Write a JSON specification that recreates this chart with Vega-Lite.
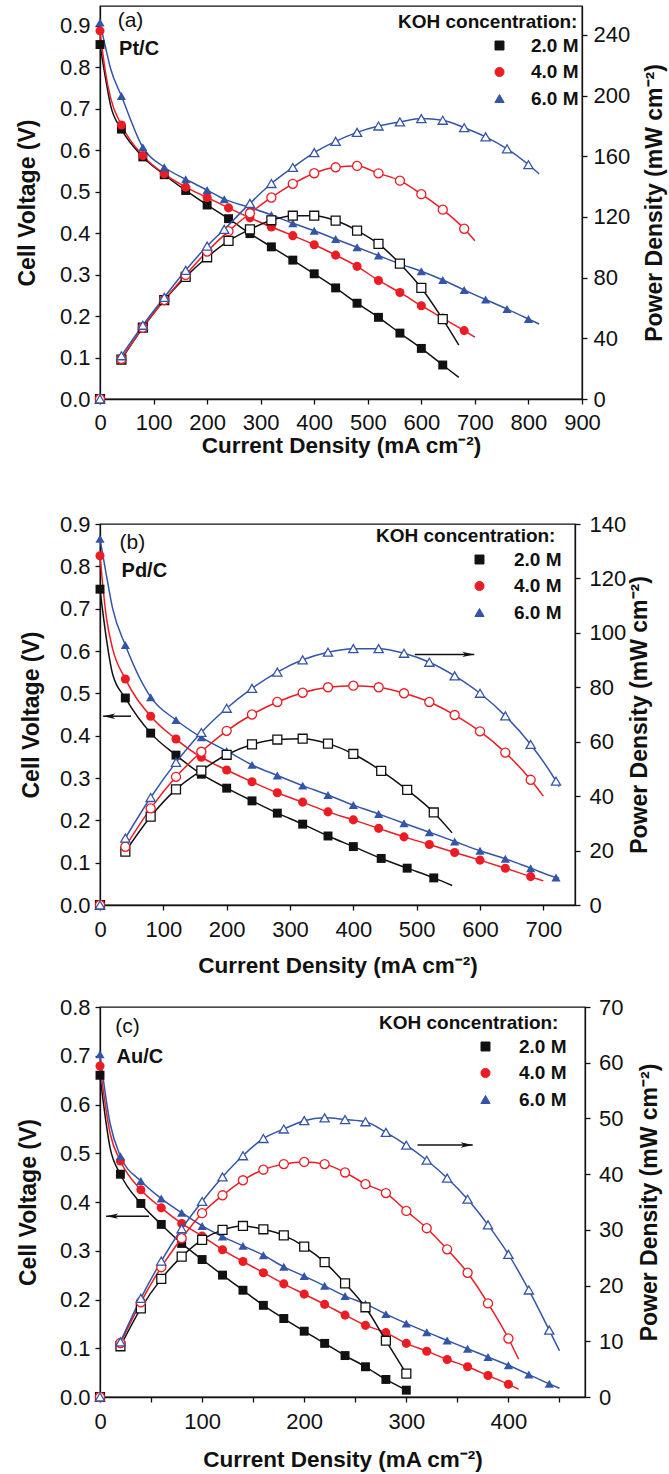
{
"$schema": "https://vega.github.io/schema/vega-lite/v6.json",
"padding": {"left": 15, "top": 5, "right": 0, "bottom": 0},
"config": {
 "view": {"stroke": "#111111", "strokeWidth": 1.3},
 "font": "Liberation Sans",
 "axis": {"labelFont": "Liberation Sans", "labelFontSize": 22, "labelColor": "#111111", "titleFont": "Liberation Sans", "titleFontSize": 23, "titleFontWeight": "bold", "titleColor": "#111111", "domainColor": "#111111", "tickColor": "#111111", "domainWidth": 1.3, "tickWidth": 1.3, "tickSize": 5, "grid": false, "labelOverlap": false, "labelFlush": false},
 "legend": {"titleFont": "Liberation Sans", "labelFont": "Liberation Sans", "titleFontSize": 19, "labelFontSize": 19, "titleFontWeight": "bold", "labelFontWeight": "bold", "titleColor": "#111111", "labelColor": "#111111", "padding": 0, "titlePadding": 4, "rowPadding": 6.5, "symbolSize": 100, "symbolStrokeWidth": 1, "labelLimit": 300, "titleLimit": 400}
},
"datasets": {
"a": [
{"conc":"2.0 M","current":0,"voltage":0.855,"power":0,"marker":true},
{"conc":"2.0 M","current":10,"voltage":0.776,"power":null,"marker":false},
{"conc":"2.0 M","current":20,"voltage":0.707,"power":null,"marker":false},
{"conc":"2.0 M","current":40,"voltage":0.651,"power":26.0,"marker":true},
{"conc":"2.0 M","current":80,"voltage":0.584,"power":47.0,"marker":true},
{"conc":"2.0 M","current":120,"voltage":0.541,"power":65.2,"marker":true},
{"conc":"2.0 M","current":160,"voltage":0.503,"power":80.5,"marker":true},
{"conc":"2.0 M","current":200,"voltage":0.468,"power":93.4,"marker":true},
{"conc":"2.0 M","current":240,"voltage":0.435,"power":104.2,"marker":true},
{"conc":"2.0 M","current":280,"voltage":0.399,"power":111.8,"marker":true},
{"conc":"2.0 M","current":320,"voltage":0.367,"power":117.8,"marker":true},
{"conc":"2.0 M","current":360,"voltage":0.335,"power":120.8,"marker":true},
{"conc":"2.0 M","current":400,"voltage":0.302,"power":120.8,"marker":true},
{"conc":"2.0 M","current":440,"voltage":0.268,"power":117.6,"marker":true},
{"conc":"2.0 M","current":480,"voltage":0.231,"power":111.0,"marker":true},
{"conc":"2.0 M","current":520,"voltage":0.197,"power":102.2,"marker":true},
{"conc":"2.0 M","current":560,"voltage":0.159,"power":89.2,"marker":true},
{"conc":"2.0 M","current":600,"voltage":0.122,"power":73.2,"marker":true},
{"conc":"2.0 M","current":640,"voltage":0.082,"power":52.6,"marker":true},
{"conc":"2.0 M","current":670,"voltage":0.052,"power":35.5,"marker":false},
{"conc":"4.0 M","current":0,"voltage":0.888,"power":0,"marker":true},
{"conc":"4.0 M","current":10,"voltage":0.79,"power":null,"marker":false},
{"conc":"4.0 M","current":20,"voltage":0.725,"power":null,"marker":false},
{"conc":"4.0 M","current":40,"voltage":0.661,"power":26.4,"marker":true},
{"conc":"4.0 M","current":80,"voltage":0.587,"power":47.0,"marker":true},
{"conc":"4.0 M","current":120,"voltage":0.543,"power":65.2,"marker":true},
{"conc":"4.0 M","current":160,"voltage":0.511,"power":81.8,"marker":true},
{"conc":"4.0 M","current":200,"voltage":0.486,"power":97.2,"marker":true},
{"conc":"4.0 M","current":240,"voltage":0.461,"power":110.6,"marker":true},
{"conc":"4.0 M","current":280,"voltage":0.437,"power":122.4,"marker":true},
{"conc":"4.0 M","current":320,"voltage":0.415,"power":132.8,"marker":true},
{"conc":"4.0 M","current":360,"voltage":0.394,"power":141.8,"marker":true},
{"conc":"4.0 M","current":400,"voltage":0.372,"power":148.8,"marker":true},
{"conc":"4.0 M","current":440,"voltage":0.347,"power":152.7,"marker":true},
{"conc":"4.0 M","current":480,"voltage":0.320,"power":153.6,"marker":true},
{"conc":"4.0 M","current":520,"voltage":0.286,"power":148.7,"marker":true},
{"conc":"4.0 M","current":560,"voltage":0.257,"power":143.9,"marker":true},
{"conc":"4.0 M","current":600,"voltage":0.225,"power":135.0,"marker":true},
{"conc":"4.0 M","current":640,"voltage":0.195,"power":124.8,"marker":true},
{"conc":"4.0 M","current":680,"voltage":0.165,"power":112.2,"marker":true},
{"conc":"4.0 M","current":700,"voltage":0.149,"power":104.3,"marker":false},
{"conc":"6.0 M","current":0,"voltage":0.908,"power":0,"marker":true},
{"conc":"6.0 M","current":10,"voltage":0.85,"power":null,"marker":false},
{"conc":"6.0 M","current":20,"voltage":0.796,"power":null,"marker":false},
{"conc":"6.0 M","current":40,"voltage":0.731,"power":28.5,"marker":true},
{"conc":"6.0 M","current":80,"voltage":0.607,"power":48.6,"marker":true},
{"conc":"6.0 M","current":120,"voltage":0.559,"power":67.0,"marker":true},
{"conc":"6.0 M","current":160,"voltage":0.530,"power":84.8,"marker":true},
{"conc":"6.0 M","current":200,"voltage":0.504,"power":100.8,"marker":true},
{"conc":"6.0 M","current":232,"voltage":0.482,"power":111.8,"marker":true},
{"conc":"6.0 M","current":280,"voltage":0.462,"power":128.9,"marker":true},
{"conc":"6.0 M","current":320,"voltage":0.444,"power":142.0,"marker":true},
{"conc":"6.0 M","current":360,"voltage":0.424,"power":152.6,"marker":true},
{"conc":"6.0 M","current":400,"voltage":0.406,"power":162.4,"marker":true},
{"conc":"6.0 M","current":440,"voltage":0.386,"power":169.8,"marker":true},
{"conc":"6.0 M","current":480,"voltage":0.366,"power":175.7,"marker":true},
{"conc":"6.0 M","current":520,"voltage":0.346,"power":179.9,"marker":true},
{"conc":"6.0 M","current":560,"voltage":0.326,"power":182.6,"marker":true},
{"conc":"6.0 M","current":600,"voltage":0.308,"power":184.8,"marker":true},
{"conc":"6.0 M","current":640,"voltage":0.287,"power":183.7,"marker":true},
{"conc":"6.0 M","current":680,"voltage":0.263,"power":178.8,"marker":true},
{"conc":"6.0 M","current":720,"voltage":0.240,"power":172.8,"marker":true},
{"conc":"6.0 M","current":760,"voltage":0.217,"power":164.9,"marker":true},
{"conc":"6.0 M","current":800,"voltage":0.193,"power":154.4,"marker":true},
{"conc":"6.0 M","current":820,"voltage":0.181,"power":148.4,"marker":false}
],
"b": [
{"conc":"2.0 M","current":0,"voltage":0.746,"power":0,"marker":true},
{"conc":"2.0 M","current":10,"voltage":0.63,"power":null,"marker":false},
{"conc":"2.0 M","current":20,"voltage":0.545,"power":null,"marker":false},
{"conc":"2.0 M","current":40,"voltage":0.489,"power":19.6,"marker":true},
{"conc":"2.0 M","current":80,"voltage":0.406,"power":32.5,"marker":true},
{"conc":"2.0 M","current":120,"voltage":0.354,"power":42.5,"marker":true},
{"conc":"2.0 M","current":160,"voltage":0.309,"power":49.4,"marker":true},
{"conc":"2.0 M","current":200,"voltage":0.276,"power":55.2,"marker":true},
{"conc":"2.0 M","current":240,"voltage":0.246,"power":59.0,"marker":true},
{"conc":"2.0 M","current":280,"voltage":0.217,"power":60.8,"marker":true},
{"conc":"2.0 M","current":320,"voltage":0.191,"power":61.1,"marker":true},
{"conc":"2.0 M","current":360,"voltage":0.163,"power":59.3,"marker":true},
{"conc":"2.0 M","current":400,"voltage":0.138,"power":55.5,"marker":true},
{"conc":"2.0 M","current":444,"voltage":0.110,"power":49.3,"marker":true},
{"conc":"2.0 M","current":485,"voltage":0.087,"power":42.3,"marker":true},
{"conc":"2.0 M","current":527,"voltage":0.064,"power":34.0,"marker":true},
{"conc":"2.0 M","current":556,"voltage":0.046,"power":26.5,"marker":false},
{"conc":"4.0 M","current":0,"voltage":0.825,"power":0,"marker":true},
{"conc":"4.0 M","current":10,"voltage":0.68,"power":null,"marker":false},
{"conc":"4.0 M","current":20,"voltage":0.605,"power":null,"marker":false},
{"conc":"4.0 M","current":40,"voltage":0.534,"power":21.4,"marker":true},
{"conc":"4.0 M","current":80,"voltage":0.446,"power":35.5,"marker":true},
{"conc":"4.0 M","current":120,"voltage":0.392,"power":47.1,"marker":true},
{"conc":"4.0 M","current":160,"voltage":0.349,"power":56.3,"marker":true},
{"conc":"4.0 M","current":200,"voltage":0.319,"power":64.0,"marker":true},
{"conc":"4.0 M","current":240,"voltage":0.291,"power":70.0,"marker":true},
{"conc":"4.0 M","current":280,"voltage":0.265,"power":74.6,"marker":true},
{"conc":"4.0 M","current":320,"voltage":0.243,"power":78.0,"marker":true},
{"conc":"4.0 M","current":360,"voltage":0.220,"power":80.0,"marker":true},
{"conc":"4.0 M","current":400,"voltage":0.201,"power":80.6,"marker":true},
{"conc":"4.0 M","current":440,"voltage":0.181,"power":80.0,"marker":true},
{"conc":"4.0 M","current":480,"voltage":0.161,"power":77.8,"marker":true},
{"conc":"4.0 M","current":520,"voltage":0.143,"power":74.6,"marker":true},
{"conc":"4.0 M","current":560,"voltage":0.124,"power":69.8,"marker":true},
{"conc":"4.0 M","current":600,"voltage":0.106,"power":63.8,"marker":true},
{"conc":"4.0 M","current":640,"voltage":0.087,"power":56.0,"marker":true},
{"conc":"4.0 M","current":680,"voltage":0.067,"power":46.0,"marker":true},
{"conc":"4.0 M","current":700,"voltage":0.057,"power":40.0,"marker":false},
{"conc":"6.0 M","current":0,"voltage":0.865,"power":0,"marker":true},
{"conc":"6.0 M","current":10,"voltage":0.78,"power":null,"marker":false},
{"conc":"6.0 M","current":20,"voltage":0.70,"power":null,"marker":false},
{"conc":"6.0 M","current":40,"voltage":0.614,"power":24.6,"marker":true},
{"conc":"6.0 M","current":80,"voltage":0.491,"power":39.5,"marker":true},
{"conc":"6.0 M","current":120,"voltage":0.437,"power":52.4,"marker":true},
{"conc":"6.0 M","current":160,"voltage":0.396,"power":63.4,"marker":true},
{"conc":"6.0 M","current":200,"voltage":0.364,"power":72.3,"marker":true},
{"conc":"6.0 M","current":240,"voltage":0.331,"power":79.6,"marker":true},
{"conc":"6.0 M","current":280,"voltage":0.306,"power":85.6,"marker":true},
{"conc":"6.0 M","current":320,"voltage":0.282,"power":90.1,"marker":true},
{"conc":"6.0 M","current":360,"voltage":0.260,"power":92.9,"marker":true},
{"conc":"6.0 M","current":400,"voltage":0.236,"power":94.2,"marker":true},
{"conc":"6.0 M","current":440,"voltage":0.215,"power":94.2,"marker":true},
{"conc":"6.0 M","current":480,"voltage":0.193,"power":92.5,"marker":true},
{"conc":"6.0 M","current":520,"voltage":0.172,"power":89.2,"marker":true},
{"conc":"6.0 M","current":560,"voltage":0.150,"power":84.2,"marker":true},
{"conc":"6.0 M","current":600,"voltage":0.128,"power":77.8,"marker":true},
{"conc":"6.0 M","current":640,"voltage":0.109,"power":69.5,"marker":true},
{"conc":"6.0 M","current":680,"voltage":0.087,"power":59.0,"marker":true},
{"conc":"6.0 M","current":720,"voltage":0.065,"power":45.5,"marker":true},
{"conc":"6.0 M","current":725,"voltage":0.063,"power":43.5,"marker":false}
],
"c": [
{"conc":"2.0 M","current":0,"voltage":0.66,"power":0,"marker":true},
{"conc":"2.0 M","current":10,"voltage":0.51,"power":null,"marker":false},
{"conc":"2.0 M","current":20,"voltage":0.457,"power":9.1,"marker":true},
{"conc":"2.0 M","current":40,"voltage":0.397,"power":15.9,"marker":true},
{"conc":"2.0 M","current":60,"voltage":0.354,"power":21.2,"marker":true},
{"conc":"2.0 M","current":80,"voltage":0.315,"power":25.2,"marker":true},
{"conc":"2.0 M","current":100,"voltage":0.282,"power":28.2,"marker":true},
{"conc":"2.0 M","current":120,"voltage":0.250,"power":30.0,"marker":true},
{"conc":"2.0 M","current":140,"voltage":0.219,"power":30.7,"marker":true},
{"conc":"2.0 M","current":160,"voltage":0.188,"power":30.1,"marker":true},
{"conc":"2.0 M","current":180,"voltage":0.161,"power":29.0,"marker":true},
{"conc":"2.0 M","current":200,"voltage":0.135,"power":27.0,"marker":true},
{"conc":"2.0 M","current":220,"voltage":0.110,"power":24.2,"marker":true},
{"conc":"2.0 M","current":240,"voltage":0.085,"power":20.4,"marker":true},
{"conc":"2.0 M","current":260,"voltage":0.062,"power":16.1,"marker":true},
{"conc":"2.0 M","current":280,"voltage":0.036,"power":10.1,"marker":true},
{"conc":"2.0 M","current":300,"voltage":0.014,"power":4.2,"marker":true},
{"conc":"4.0 M","current":0,"voltage":0.679,"power":0,"marker":true},
{"conc":"4.0 M","current":10,"voltage":0.54,"power":null,"marker":false},
{"conc":"4.0 M","current":20,"voltage":0.484,"power":9.7,"marker":true},
{"conc":"4.0 M","current":40,"voltage":0.425,"power":17.0,"marker":true},
{"conc":"4.0 M","current":60,"voltage":0.388,"power":23.3,"marker":true},
{"conc":"4.0 M","current":80,"voltage":0.356,"power":28.5,"marker":true},
{"conc":"4.0 M","current":100,"voltage":0.330,"power":33.0,"marker":true},
{"conc":"4.0 M","current":120,"voltage":0.302,"power":36.2,"marker":true},
{"conc":"4.0 M","current":140,"voltage":0.278,"power":38.9,"marker":true},
{"conc":"4.0 M","current":160,"voltage":0.255,"power":40.8,"marker":true},
{"conc":"4.0 M","current":180,"voltage":0.232,"power":41.8,"marker":true},
{"conc":"4.0 M","current":200,"voltage":0.211,"power":42.2,"marker":true},
{"conc":"4.0 M","current":220,"voltage":0.190,"power":41.8,"marker":true},
{"conc":"4.0 M","current":240,"voltage":0.168,"power":40.3,"marker":true},
{"conc":"4.0 M","current":260,"voltage":0.147,"power":38.2,"marker":true},
{"conc":"4.0 M","current":280,"voltage":0.132,"power":36.6,"marker":true},
{"conc":"4.0 M","current":300,"voltage":0.110,"power":33.4,"marker":true},
{"conc":"4.0 M","current":320,"voltage":0.094,"power":30.3,"marker":true},
{"conc":"4.0 M","current":340,"voltage":0.077,"power":26.5,"marker":true},
{"conc":"4.0 M","current":360,"voltage":0.062,"power":22.3,"marker":true},
{"conc":"4.0 M","current":380,"voltage":0.044,"power":16.8,"marker":true},
{"conc":"4.0 M","current":400,"voltage":0.026,"power":10.5,"marker":true},
{"conc":"4.0 M","current":410,"voltage":0.016,"power":6.8,"marker":false},
{"conc":"6.0 M","current":0,"voltage":0.703,"power":0,"marker":true},
{"conc":"6.0 M","current":10,"voltage":0.56,"power":null,"marker":false},
{"conc":"6.0 M","current":20,"voltage":0.494,"power":9.9,"marker":true},
{"conc":"6.0 M","current":40,"voltage":0.443,"power":17.7,"marker":true},
{"conc":"6.0 M","current":60,"voltage":0.407,"power":24.4,"marker":true},
{"conc":"6.0 M","current":80,"voltage":0.378,"power":30.2,"marker":true},
{"conc":"6.0 M","current":100,"voltage":0.351,"power":35.1,"marker":true},
{"conc":"6.0 M","current":120,"voltage":0.329,"power":39.5,"marker":true},
{"conc":"6.0 M","current":140,"voltage":0.310,"power":43.3,"marker":true},
{"conc":"6.0 M","current":160,"voltage":0.291,"power":46.4,"marker":true},
{"conc":"6.0 M","current":180,"voltage":0.267,"power":48.1,"marker":true},
{"conc":"6.0 M","current":200,"voltage":0.248,"power":49.6,"marker":true},
{"conc":"6.0 M","current":220,"voltage":0.228,"power":50.1,"marker":true},
{"conc":"6.0 M","current":240,"voltage":0.207,"power":49.8,"marker":true},
{"conc":"6.0 M","current":260,"voltage":0.191,"power":49.4,"marker":true},
{"conc":"6.0 M","current":280,"voltage":0.170,"power":47.5,"marker":true},
{"conc":"6.0 M","current":300,"voltage":0.151,"power":45.2,"marker":true},
{"conc":"6.0 M","current":320,"voltage":0.133,"power":42.5,"marker":true},
{"conc":"6.0 M","current":340,"voltage":0.116,"power":39.3,"marker":true},
{"conc":"6.0 M","current":360,"voltage":0.099,"power":35.5,"marker":true},
{"conc":"6.0 M","current":380,"voltage":0.082,"power":30.9,"marker":true},
{"conc":"6.0 M","current":400,"voltage":0.065,"power":25.6,"marker":true},
{"conc":"6.0 M","current":420,"voltage":0.046,"power":19.2,"marker":true},
{"conc":"6.0 M","current":440,"voltage":0.027,"power":12.0,"marker":true},
{"conc":"6.0 M","current":450,"voltage":0.018,"power":8.3,"marker":false}
]
},
"spacing": 54,
"resolve": {"scale": {"color": "independent", "shape": "independent", "size": "independent"}, "legend": {"color": "independent"}},
"vconcat": [
{
 "width": 482, "height": 393,
 "data": {"name": "a"},
 "resolve": {"scale": {"y": "independent"}},
 "layer": [
  {"layer": [
   {"mark": {"type": "line", "interpolate": "monotone", "strokeWidth": 1.5},
    "encoding": {
     "x": {"field": "current", "type": "quantitative", "scale": {"domain": [0, 900], "nice": false, "zero": false},
       "axis": {"title": "Current Density (mA cm⁻²)", "titleFontSize": 22.5, "values": [0,50,100,150,200,250,300,350,400,450,500,550,600,650,700,750,800,850,900], "labelExpr": "datum.value % 100 === 0 ? format(datum.value, 'd') : ''", "labelPadding": 8, "titlePadding": 1}},
     "y": {"field": "voltage", "type": "quantitative", "scale": {"domain": [0, 0.948], "nice": false, "zero": false},
       "axis": {"title": "Cell Voltage (V)", "values": [0,0.05,0.1,0.15,0.2,0.25,0.3,0.35,0.4,0.45,0.5,0.55,0.6,0.65,0.7,0.75,0.8,0.85,0.9], "labelExpr": "abs(datum.value*10 - round(datum.value*10)) < 0.001 ? format(datum.value, '.1f') : ''", "labelPadding": 5, "titlePadding": 20}},
     "color": {"field": "conc", "type": "nominal", "scale": {"domain": ["2.0 M","4.0 M","6.0 M"], "range": ["#111111","#ec1c24","#3355a8"]},
       "legend": {"title": "KOH concentration:", "orient": "none", "legendX": 298, "legendY": 7, "symbolOffset": 92, "labelOffset": 22}}
    }},
   {"transform": [{"filter": "datum.marker"}],
    "mark": {"type": "point", "filled": true, "opacity": 1},
    "encoding": {
     "x": {"field": "current", "type": "quantitative", "scale": {"domain": [0, 900], "nice": false, "zero": false}},
     "y": {"field": "voltage", "type": "quantitative", "scale": {"domain": [0, 0.948], "nice": false, "zero": false}},
     "color": {"field": "conc", "type": "nominal"},
     "shape": {"field": "conc", "type": "nominal", "scale": {"domain": ["2.0 M","4.0 M","6.0 M"], "range": ["square","circle","triangle-up"]}, "legend": null},
     "size": {"field": "conc", "type": "ordinal", "scale": {"domain": ["2.0 M","4.0 M","6.0 M"], "range": [80, 85, 125]}, "legend": null}
    }},
   {"data": {"values": [{"current": 57, "voltage": 0.913, "label": "(a)"}]},
    "mark": {"type": "text", "font": "Liberation Sans", "fontSize": 21, "color": "#111111", "align": "center", "baseline": "middle"},
    "encoding": {
     "x": {"field": "current", "type": "quantitative", "scale": {"domain": [0, 900], "nice": false, "zero": false}},
     "y": {"field": "voltage", "type": "quantitative", "scale": {"domain": [0, 0.948], "nice": false, "zero": false}},
     "text": {"field": "label"}}},
   {"data": {"values": [{"current": 73, "voltage": 0.844, "label": "Pt/C"}]},
    "mark": {"type": "text", "font": "Liberation Sans", "fontSize": 20, "fontWeight": "bold", "color": "#111111", "align": "center", "baseline": "middle"},
    "encoding": {
     "x": {"field": "current", "type": "quantitative", "scale": {"domain": [0, 900], "nice": false, "zero": false}},
     "y": {"field": "voltage", "type": "quantitative", "scale": {"domain": [0, 0.948], "nice": false, "zero": false}},
     "text": {"field": "label"}}}
  ]},
  {"layer": [
   {"mark": {"type": "line", "interpolate": "monotone", "strokeWidth": 1.5},
    "encoding": {
     "x": {"field": "current", "type": "quantitative", "scale": {"domain": [0, 900], "nice": false, "zero": false}},
     "y": {"field": "power", "type": "quantitative", "scale": {"domain": [0, 259], "nice": false, "zero": false},
       "axis": {"orient": "right", "title": "Power Density (mW cm⁻²)", "values": [0,20,40,60,80,100,120,140,160,180,200,220,240], "labelExpr": "datum.value % 40 === 0 ? format(datum.value, 'd') : ''", "labelPadding": 6, "titlePadding": 14, "titleAngle": -90, "titleBaseline": "top"}},
     "color": {"field": "conc", "type": "nominal"}
    }},
   {"transform": [{"filter": "datum.marker"}],
    "mark": {"type": "point", "filled": false, "fill": "white", "strokeWidth": 1.3, "opacity": 1},
    "encoding": {
     "x": {"field": "current", "type": "quantitative", "scale": {"domain": [0, 900], "nice": false, "zero": false}},
     "y": {"field": "power", "type": "quantitative", "scale": {"domain": [0, 259], "nice": false, "zero": false}},
     "color": {"field": "conc", "type": "nominal"},
     "shape": {"field": "conc", "type": "nominal", "legend": null},
     "size": {"field": "conc", "type": "ordinal", "legend": null}
    }}
  ]}
 ]
},
{
 "spacing": 17,
 "resolve": {"scale": {"color": "independent", "shape": "independent", "size": "independent"}, "legend": {"color": "independent"}},
 "vconcat": [
 {
 "width": 475, "height": 381,
 "data": {"name": "b"},
 "resolve": {"scale": {"y": "independent"}},
 "layer": [
  {"layer": [
   {"mark": {"type": "line", "interpolate": "monotone", "strokeWidth": 1.5},
    "encoding": {
     "x": {"field": "current", "type": "quantitative", "scale": {"domain": [0, 750], "nice": false, "zero": false},
       "axis": {"title": "Current Density (mA cm⁻²)", "titleFontSize": 22.5, "values": [0,50,100,150,200,250,300,350,400,450,500,550,600,650,700,750], "labelExpr": "datum.value % 100 === 0 ? format(datum.value, 'd') : ''", "labelPadding": 9, "titlePadding": 14}},
     "y": {"field": "voltage", "type": "quantitative", "scale": {"domain": [0, 0.9], "nice": false, "zero": false},
       "axis": {"title": "Cell Voltage (V)", "values": [0,0.05,0.1,0.15,0.2,0.25,0.3,0.35,0.4,0.45,0.5,0.55,0.6,0.65,0.7,0.75,0.8,0.85,0.9], "labelExpr": "abs(datum.value*10 - round(datum.value*10)) < 0.001 ? format(datum.value, '.1f') : ''", "labelPadding": 5, "titlePadding": 16}},
     "color": {"field": "conc", "type": "nominal", "scale": {"domain": ["2.0 M","4.0 M","6.0 M"], "range": ["#111111","#ec1c24","#3355a8"]},
       "legend": {"title": "KOH concentration:", "orient": "none", "legendX": 276, "legendY": 3, "symbolOffset": 94, "labelOffset": 25}}
    }},
   {"transform": [{"filter": "datum.marker"}],
    "mark": {"type": "point", "filled": true, "opacity": 1},
    "encoding": {
     "x": {"field": "current", "type": "quantitative", "scale": {"domain": [0, 750], "nice": false, "zero": false}},
     "y": {"field": "voltage", "type": "quantitative", "scale": {"domain": [0, 0.9], "nice": false, "zero": false}},
     "color": {"field": "conc", "type": "nominal"},
     "shape": {"field": "conc", "type": "nominal", "scale": {"domain": ["2.0 M","4.0 M","6.0 M"], "range": ["square","circle","triangle-up"]}, "legend": null},
     "size": {"field": "conc", "type": "ordinal", "scale": {"domain": ["2.0 M","4.0 M","6.0 M"], "range": [80, 85, 125]}, "legend": null}
    }},
   {"data": {"values": [{"from": 49, "to": 5, "voltage": 0.446}, {"from": 497, "to": 591, "voltage": 0.592}]},
    "mark": {"type": "rule", "strokeWidth": 1.5, "color": "#111111"},
    "encoding": {
     "x": {"field": "from", "type": "quantitative", "scale": {"domain": [0, 750], "nice": false, "zero": false}},
     "x2": {"field": "to"},
     "y": {"field": "voltage", "type": "quantitative", "scale": {"domain": [0, 0.9], "nice": false, "zero": false}}}},
   {"data": {"values": [{"to": 5, "voltage": 0.446}]},
    "mark": {"type": "point", "shape": "M0,0L2,-0.45L1.5,0L2,0.45Z", "filled": true, "color": "#111111", "size": 144, "opacity": 1},
    "encoding": {
     "x": {"field": "to", "type": "quantitative", "scale": {"domain": [0, 750], "nice": false, "zero": false}},
     "y": {"field": "voltage", "type": "quantitative", "scale": {"domain": [0, 0.9], "nice": false, "zero": false}}}},
   {"data": {"values": [{"to": 591, "voltage": 0.592}]},
    "mark": {"type": "point", "shape": "M0,0L-2,-0.45L-1.5,0L-2,0.45Z", "filled": true, "color": "#111111", "size": 144, "opacity": 1},
    "encoding": {
     "x": {"field": "to", "type": "quantitative", "scale": {"domain": [0, 750], "nice": false, "zero": false}},
     "y": {"field": "voltage", "type": "quantitative", "scale": {"domain": [0, 0.9], "nice": false, "zero": false}}}},
   {"data": {"values": [{"current": 51, "voltage": 0.855, "label": "(b)"}]},
    "mark": {"type": "text", "font": "Liberation Sans", "fontSize": 21, "color": "#111111", "align": "center", "baseline": "middle"},
    "encoding": {
     "x": {"field": "current", "type": "quantitative", "scale": {"domain": [0, 750], "nice": false, "zero": false}},
     "y": {"field": "voltage", "type": "quantitative", "scale": {"domain": [0, 0.9], "nice": false, "zero": false}},
     "text": {"field": "label"}}},
   {"data": {"values": [{"current": 70, "voltage": 0.79, "label": "Pd/C"}]},
    "mark": {"type": "text", "font": "Liberation Sans", "fontSize": 20, "fontWeight": "bold", "color": "#111111", "align": "center", "baseline": "middle"},
    "encoding": {
     "x": {"field": "current", "type": "quantitative", "scale": {"domain": [0, 750], "nice": false, "zero": false}},
     "y": {"field": "voltage", "type": "quantitative", "scale": {"domain": [0, 0.9], "nice": false, "zero": false}},
     "text": {"field": "label"}}}
  ]},
  {"layer": [
   {"mark": {"type": "line", "interpolate": "monotone", "strokeWidth": 1.5},
    "encoding": {
     "x": {"field": "current", "type": "quantitative", "scale": {"domain": [0, 750], "nice": false, "zero": false}},
     "y": {"field": "power", "type": "quantitative", "scale": {"domain": [0, 140], "nice": false, "zero": false},
       "axis": {"orient": "right", "title": "Power Density (mW cm⁻²)", "values": [0,10,20,30,40,50,60,70,80,90,100,110,120,130,140], "labelExpr": "datum.value % 20 === 0 ? format(datum.value, 'd') : ''", "labelPadding": 9, "titlePadding": 3, "titleAngle": -90, "titleBaseline": "top"}},
     "color": {"field": "conc", "type": "nominal"}
    }},
   {"transform": [{"filter": "datum.marker"}],
    "mark": {"type": "point", "filled": false, "fill": "white", "strokeWidth": 1.3, "opacity": 1},
    "encoding": {
     "x": {"field": "current", "type": "quantitative", "scale": {"domain": [0, 750], "nice": false, "zero": false}},
     "y": {"field": "power", "type": "quantitative", "scale": {"domain": [0, 140], "nice": false, "zero": false}},
     "color": {"field": "conc", "type": "nominal"},
     "shape": {"field": "conc", "type": "nominal", "legend": null},
     "size": {"field": "conc", "type": "ordinal", "legend": null}
    }}
  ]}
 ]
 },
 {
 "width": 485, "height": 390,
 "data": {"name": "c"},
 "resolve": {"scale": {"y": "independent"}},
 "layer": [
  {"layer": [
   {"mark": {"type": "line", "interpolate": "monotone", "strokeWidth": 1.5},
    "encoding": {
     "x": {"field": "current", "type": "quantitative", "scale": {"domain": [0, 475], "nice": false, "zero": false},
       "axis": {"title": "Current Density (mA cm⁻²)", "titleFontSize": 22.5, "values": [0,50,100,150,200,250,300,350,400,450], "labelExpr": "datum.value % 100 === 0 ? format(datum.value, 'd') : ''", "labelPadding": 9, "titlePadding": 16}},
     "y": {"field": "voltage", "type": "quantitative", "scale": {"domain": [0, 0.8], "nice": false, "zero": false},
       "axis": {"title": "Cell Voltage (V)", "values": [0,0.05,0.1,0.15,0.2,0.25,0.3,0.35,0.4,0.45,0.5,0.55,0.6,0.65,0.7,0.75,0.8], "labelExpr": "abs(datum.value*10 - round(datum.value*10)) < 0.001 ? format(datum.value, '.1f') : ''", "labelPadding": 5, "titlePadding": 19}},
     "color": {"field": "conc", "type": "nominal", "scale": {"domain": ["2.0 M","4.0 M","6.0 M"], "range": ["#111111","#ec1c24","#3355a8"]},
       "legend": {"title": "KOH concentration:", "orient": "none", "legendX": 279, "legendY": 7, "symbolOffset": 97, "labelOffset": 24}}
    }},
   {"transform": [{"filter": "datum.marker"}],
    "mark": {"type": "point", "filled": true, "opacity": 1},
    "encoding": {
     "x": {"field": "current", "type": "quantitative", "scale": {"domain": [0, 475], "nice": false, "zero": false}},
     "y": {"field": "voltage", "type": "quantitative", "scale": {"domain": [0, 0.8], "nice": false, "zero": false}},
     "color": {"field": "conc", "type": "nominal"},
     "shape": {"field": "conc", "type": "nominal", "scale": {"domain": ["2.0 M","4.0 M","6.0 M"], "range": ["square","circle","triangle-up"]}, "legend": null},
     "size": {"field": "conc", "type": "ordinal", "scale": {"domain": ["2.0 M","4.0 M","6.0 M"], "range": [80, 85, 125]}, "legend": null}
    }},
   {"data": {"values": [{"from": 48, "to": 6, "voltage": 0.371}, {"from": 311, "to": 365, "voltage": 0.517}]},
    "mark": {"type": "rule", "strokeWidth": 1.5, "color": "#111111"},
    "encoding": {
     "x": {"field": "from", "type": "quantitative", "scale": {"domain": [0, 475], "nice": false, "zero": false}},
     "x2": {"field": "to"},
     "y": {"field": "voltage", "type": "quantitative", "scale": {"domain": [0, 0.8], "nice": false, "zero": false}}}},
   {"data": {"values": [{"to": 6, "voltage": 0.371}]},
    "mark": {"type": "point", "shape": "M0,0L2,-0.45L1.5,0L2,0.45Z", "filled": true, "color": "#111111", "size": 144, "opacity": 1},
    "encoding": {
     "x": {"field": "to", "type": "quantitative", "scale": {"domain": [0, 475], "nice": false, "zero": false}},
     "y": {"field": "voltage", "type": "quantitative", "scale": {"domain": [0, 0.8], "nice": false, "zero": false}}}},
   {"data": {"values": [{"to": 365, "voltage": 0.517}]},
    "mark": {"type": "point", "shape": "M0,0L-2,-0.45L-1.5,0L-2,0.45Z", "filled": true, "color": "#111111", "size": 144, "opacity": 1},
    "encoding": {
     "x": {"field": "to", "type": "quantitative", "scale": {"domain": [0, 475], "nice": false, "zero": false}},
     "y": {"field": "voltage", "type": "quantitative", "scale": {"domain": [0, 0.8], "nice": false, "zero": false}}}},
   {"data": {"values": [{"current": 27, "voltage": 0.759, "label": "(c)"}]},
    "mark": {"type": "text", "font": "Liberation Sans", "fontSize": 21, "color": "#111111", "align": "center", "baseline": "middle"},
    "encoding": {
     "x": {"field": "current", "type": "quantitative", "scale": {"domain": [0, 475], "nice": false, "zero": false}},
     "y": {"field": "voltage", "type": "quantitative", "scale": {"domain": [0, 0.8], "nice": false, "zero": false}},
     "text": {"field": "label"}}},
   {"data": {"values": [{"current": 39, "voltage": 0.698, "label": "Au/C"}]},
    "mark": {"type": "text", "font": "Liberation Sans", "fontSize": 20, "fontWeight": "bold", "color": "#111111", "align": "center", "baseline": "middle"},
    "encoding": {
     "x": {"field": "current", "type": "quantitative", "scale": {"domain": [0, 475], "nice": false, "zero": false}},
     "y": {"field": "voltage", "type": "quantitative", "scale": {"domain": [0, 0.8], "nice": false, "zero": false}},
     "text": {"field": "label"}}}
  ]},
  {"layer": [
   {"mark": {"type": "line", "interpolate": "monotone", "strokeWidth": 1.5},
    "encoding": {
     "x": {"field": "current", "type": "quantitative", "scale": {"domain": [0, 475], "nice": false, "zero": false}},
     "y": {"field": "power", "type": "quantitative", "scale": {"domain": [0, 70], "nice": false, "zero": false},
       "axis": {"orient": "right", "title": "Power Density (mW cm⁻²)", "values": [0,5,10,15,20,25,30,35,40,45,50,55,60,65,70], "labelExpr": "datum.value % 10 === 0 ? format(datum.value, 'd') : ''", "labelPadding": 8.5, "titlePadding": 16, "titleAngle": -90, "titleBaseline": "top"}},
     "color": {"field": "conc", "type": "nominal"}
    }},
   {"transform": [{"filter": "datum.marker"}],
    "mark": {"type": "point", "filled": false, "fill": "white", "strokeWidth": 1.3, "opacity": 1},
    "encoding": {
     "x": {"field": "current", "type": "quantitative", "scale": {"domain": [0, 475], "nice": false, "zero": false}},
     "y": {"field": "power", "type": "quantitative", "scale": {"domain": [0, 70], "nice": false, "zero": false}},
     "color": {"field": "conc", "type": "nominal"},
     "shape": {"field": "conc", "type": "nominal", "legend": null},
     "size": {"field": "conc", "type": "ordinal", "legend": null}
    }}
  ]}
 ]
 }
 ]
}
]
}
